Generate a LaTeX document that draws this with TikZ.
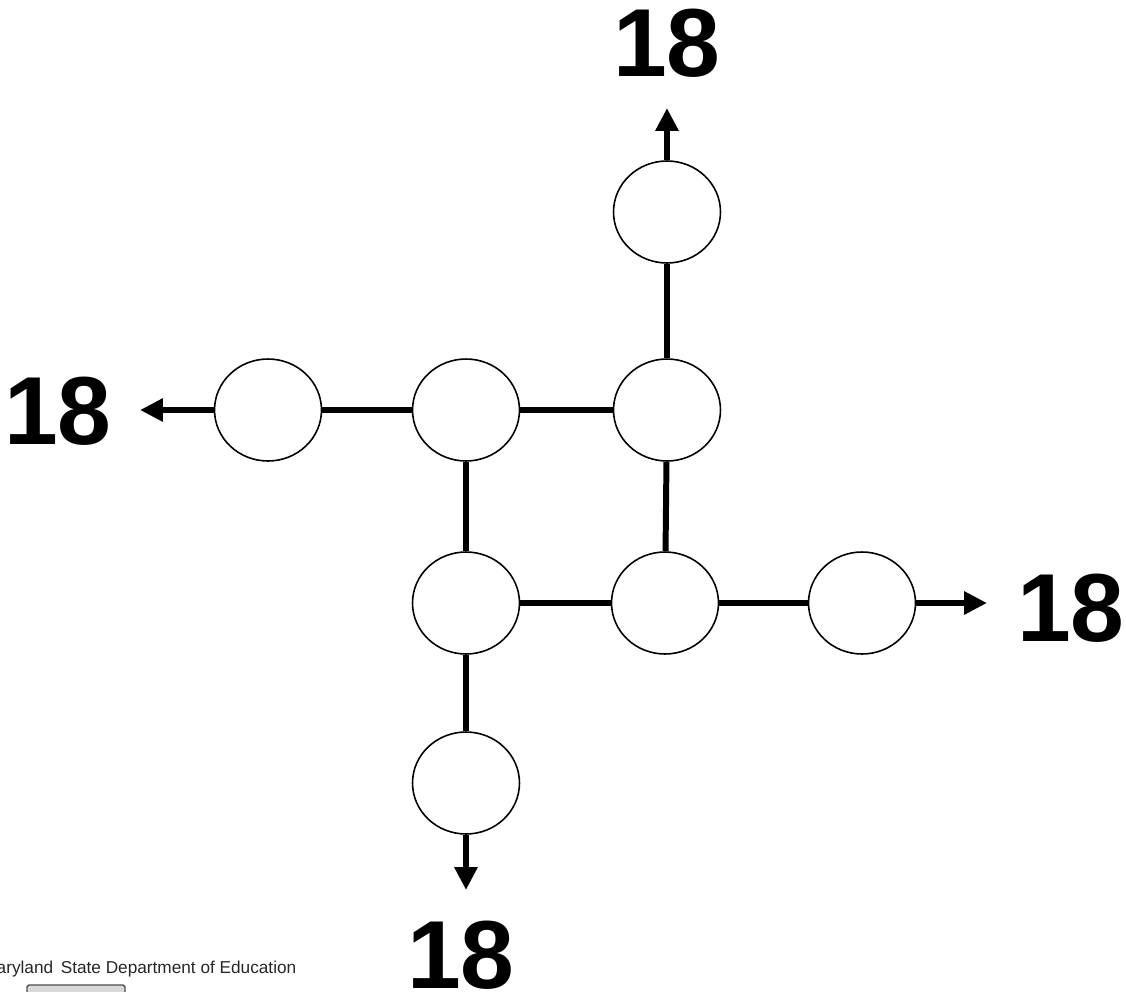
\documentclass[tikz,border=0pt]{standalone}
\usepackage{fontspec}
\setmainfont{Liberation Sans}
\usetikzlibrary{arrows.meta,shapes.geometric}
\begin{document}
\begin{tikzpicture}[x=0.02cm,y=-0.02cm,
  cell/.style={draw=black,line width=0.9pt,ellipse,minimum width=2.14cm,minimum height=2.04cm,inner sep=0pt,fill=white},
  link/.style={line width=3.4pt},
  outarrow/.style={line width=3.4pt,-{Triangle[length=13pt,width=12.5pt]}},
  num/.style={font=\bfseries\fontsize{55}{60}\selectfont,inner sep=0pt}]
\useasboundingbox (0,0) rectangle (1126,991);
\clip (0,0) rectangle (1126,991);
\coordinate (cT) at (667,212);
\coordinate (cL) at (268,410);
\coordinate (cA) at (466,410);
\coordinate (cB) at (667,410);
\coordinate (cC) at (466,603);
\coordinate (cD) at (665,603);
\coordinate (cR) at (862,603);
\coordinate (cS) at (466,783);
\node[cell] (T) at (cT) {};
\node[cell] (L) at (cL) {};
\node[cell] (A) at (cA) {};
\node[cell] (B) at (cB) {};
\node[cell] (C) at (cC) {};
\node[cell] (D) at (cD) {};
\node[cell] (R) at (cR) {};
\node[cell] (S) at (cS) {};
\draw[link] (L) -- (A);
\draw[link] (A) -- (B);
\draw[link] (B) -- (T);
\draw[link] (A) -- (C);
\draw[link] (B) -- (D);
\draw[link] (C) -- (D);
\draw[link] (D) -- (R);
\draw[link] (C) -- (S);
\coordinate (eT) at (667,108);
\coordinate (eL) at (140,410);
\coordinate (eR) at (987,603);
\coordinate (eS) at (466,890);
\draw[outarrow] (T.north) -- (eT);
\draw[outarrow] (L.west) -- (eL);
\draw[outarrow] (R.east) -- (eR);
\draw[outarrow] (S.south) -- (eS);
\node[num] (nT) at (667,43) {18};
\node[num] (nL) at (58,411) {18};
\node[num] (nR) at (1071,608) {18};
\node[num] (nS) at (461,955) {18};
\node[anchor=base west,inner sep=0pt,text=black!85,font=\fontsize{9.8}{11}\selectfont] (msde) at (-18,973) {Maryland\, State Department of Education};
\draw[black!70,line width=0.8pt,fill=black!15,rounded corners=1pt] (27,985) rectangle (125,1000);
\end{tikzpicture}
\end{document}
